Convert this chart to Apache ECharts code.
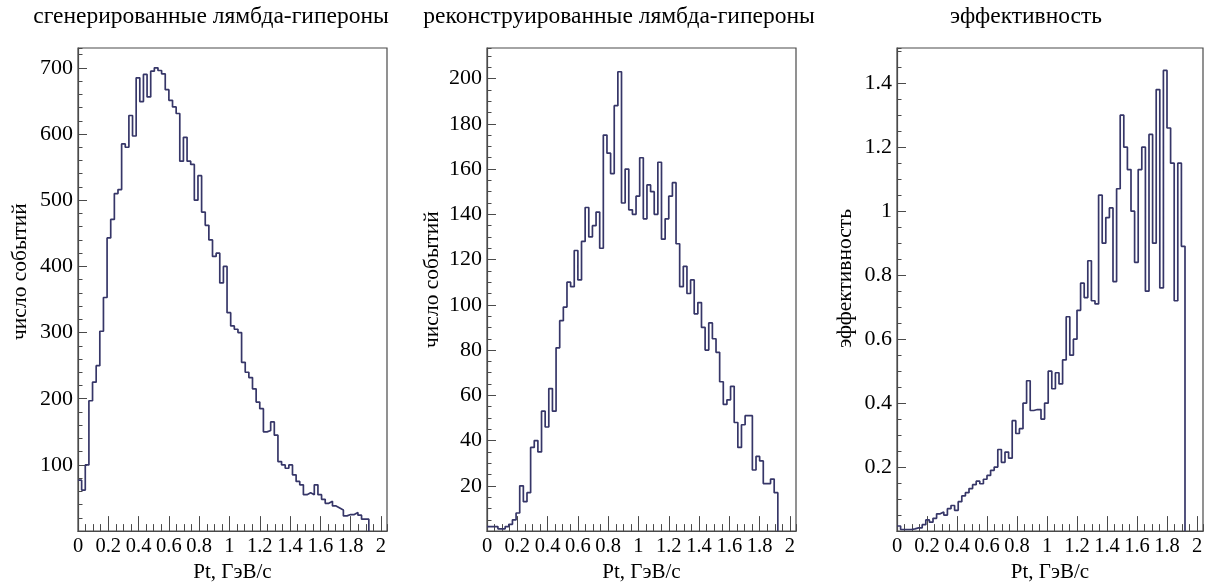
<!DOCTYPE html>
<html><head><meta charset="utf-8">
<script src="https://cdn.jsdelivr.net/npm/echarts@6/dist/echarts.min.js"></script>
<style>html,body{margin:0;padding:0;background:#fff}#c{width:1211px;height:588px}</style>
</head><body><div id="c"></div>
<script>
// ---- data ----
const binWidth = 0.024;            // GeV/c per bin, bins start at 0
const titles = ['сгенерированные лямбда-гипероны', 'реконструированные лямбда-гипероны', 'эффективность'];
const yNames = ['число событий', 'число событий', 'эффективность'];
const xName = 'Pt, ГэВ/с';
const generated = [
  77, 62, 100, 197, 225, 250, 302, 353, 443, 471,
  510, 516, 585, 580, 628, 597, 685, 649, 690, 656,
  695, 700, 696, 691, 667, 651, 641, 631, 559, 595,
  559, 554, 500, 537, 482, 462, 440, 415, 420, 375,
  400, 330, 310, 305, 300, 255, 240, 232, 215, 195,
  185, 150, 152, 165, 145, 105, 100, 95, 100, 85,
  75, 70, 55, 58, 55, 70, 55, 48, 42, 45,
  38, 35, 32, 23, 25, 25, 28, 24, 18, 18
];
const reconstructed = [
  2, 2, 2, 1, 1, 2, 3, 5, 8, 20,
  13, 17, 37, 40, 35, 53, 46, 63, 53, 81,
  93, 99, 110, 108, 124, 111, 128, 143, 130, 135,
  141, 125, 175, 167, 158, 188, 203, 145, 160, 142,
  140, 148, 165, 138, 153, 150, 140, 163, 129, 138,
  148, 154, 127, 108, 117, 105, 111, 96, 101, 90,
  80, 92, 85, 79, 66, 56, 58, 64, 48, 37,
  47, 51, 51, 27, 33, 31, 21, 21, 23, 17
];
const efficiency = [
  0.016, 0.005, 0.005, 0.005, 0.007, 0.01, 0.01, 0.02, 0.035, 0.028,
  0.04, 0.054, 0.06, 0.05, 0.07, 0.08, 0.065, 0.092, 0.11, 0.12,
  0.133, 0.145, 0.156, 0.148, 0.162, 0.174, 0.19, 0.2, 0.255, 0.215,
  0.247, 0.228, 0.345, 0.305, 0.32, 0.40, 0.47, 0.377, 0.38, 0.38,
  0.35, 0.40, 0.5, 0.445, 0.495, 0.46, 0.535, 0.67, 0.55, 0.6,
  0.69, 0.775, 0.73, 0.845, 0.72, 0.71, 1.05, 0.9, 0.98, 1.01,
  0.78, 1.07, 1.3, 1.2, 1.13, 1.0, 0.84, 1.13, 1.2, 0.75,
  1.24, 0.9, 1.38, 0.76, 1.44, 1.26, 1.15, 0.72, 1.15, 0.89
];
const xRange = [0, 2.04];
const xMajor = 0.2, xMinor = 0.05;
const yMax = [730, 213.5, 1.51];
const yMajor = [100, 20, 0.2];
const yMinor = [20, 5, 0.05];

// ---- chart ----
const FONT = "'Liberation Serif','DejaVu Serif',serif";
const LINE = '#363668';
const FRAME = '#4a4a4a';
const panels = [generated, reconstructed, efficiency];
const gridDefs = [
  {left: 78, top: 48, width: 309, height: 493},
  {left: 487, top: 48, width: 309, height: 493},
  {left: 897, top: 48, width: 306, height: 493}
];
const titleCenters = [211, 619, 1026];
const yNameGaps = [47, 44, 41];
const yNameShift = [36, 20, 22];

function histPoints(vals) {
  const pts = vals.map((v, i) => [i * binWidth, v]);
  const end = vals.length * binWidth;
  pts.push([end, vals[vals.length - 1]]);
  pts.push([end, 0]);
  return pts;
}

const option = {
  backgroundColor: '#fff',
  animation: false,
  title: titles.map((t, i) => ({
    text: t, left: titleCenters[i], top: 5, textAlign: 'center', padding: 0,
    textStyle: {fontFamily: FONT, fontSize: 23.5, fontWeight: 'normal', color: '#000'}
  })),
  grid: gridDefs.map(g => Object.assign({show: true, borderColor: FRAME, borderWidth: 1.2, backgroundColor: 'transparent'}, g)),
  xAxis: [], yAxis: [], series: []
};

panels.forEach((vals, i) => {
  option.xAxis.push({
    gridIndex: i, type: 'value', position: 'bottom', min: xRange[0], max: xRange[1], interval: xMajor,
    axisLine: {show: true, onZero: false, lineStyle: {color: FRAME, width: 1.2}},
    axisTick: {show: true, inside: true, length: 15, lineStyle: {color: FRAME}},
    axisLabel: {showMaxLabel: false, margin: 5, fontFamily: FONT, fontSize: 20.5, color: '#000'},
    splitLine: {show: false},
    name: xName, nameLocation: 'middle', nameGap: 27,
    nameTextStyle: {fontFamily: FONT, fontSize: 21, color: '#000'}
  });
  option.xAxis.push({
    gridIndex: i, type: 'value', position: 'bottom', min: xRange[0], max: xRange[1], interval: xMinor,
    axisLine: {show: false, onZero: false},
    axisTick: {show: true, inside: true, length: 7, lineStyle: {color: FRAME}},
    axisLabel: {show: false}, splitLine: {show: false}
  });
  option.yAxis.push({
    gridIndex: i, type: 'value', position: 'left', min: 0, max: yMax[i], interval: yMajor[i],
    axisLine: {show: true, onZero: false, lineStyle: {color: FRAME, width: 1.2}},
    axisTick: {show: true, inside: true, length: 9, lineStyle: {color: FRAME}},
    axisLabel: {showMinLabel: false, showMaxLabel: false, margin: 5, fontFamily: FONT, fontSize: 22, color: '#000'},
    splitLine: {show: false},
    name: yNames[i], nameLocation: 'middle', nameGap: yNameGaps[i],
    nameTextStyle: {fontFamily: FONT, fontSize: 21.5, color: '#000', padding: [0, 0, 0, yNameShift[i]]}
  });
  option.yAxis.push({
    gridIndex: i, type: 'value', position: 'left', min: 0, max: yMax[i], interval: yMinor[i],
    axisLine: {show: false, onZero: false},
    axisTick: {show: true, inside: true, length: 4.5, lineStyle: {color: FRAME}},
    axisLabel: {show: false}, splitLine: {show: false}
  });
  option.series.push({
    type: 'line', xAxisIndex: 2 * i, yAxisIndex: 2 * i,
    data: histPoints(vals), step: 'end', symbol: 'none', clip: true,
    lineStyle: {color: LINE, width: 1.7}
  });
});

const chart = echarts.init(document.getElementById('c'), null, {renderer: 'canvas'});
chart.setOption(option);
</script>
</body></html>
